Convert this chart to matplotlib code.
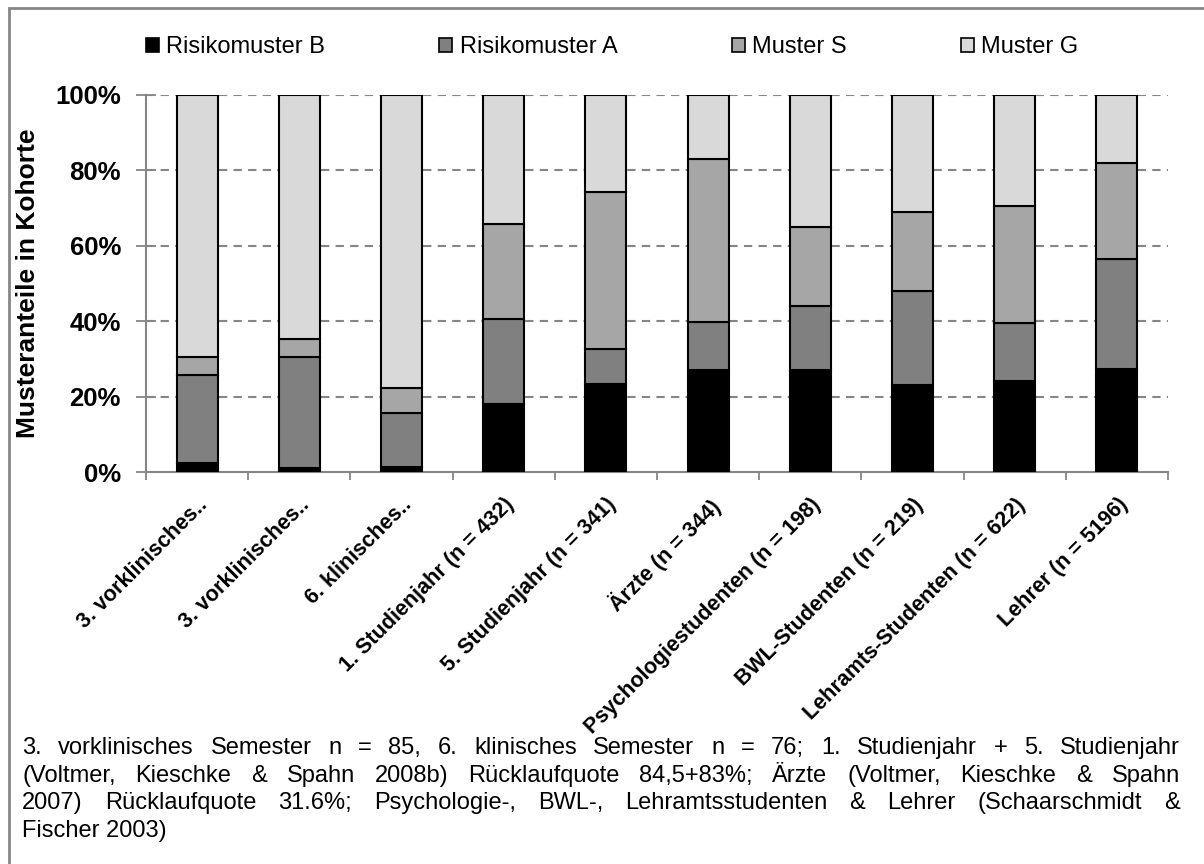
import numpy as np
import matplotlib
matplotlib.use('Agg')
import matplotlib.pyplot as plt
from matplotlib.patches import Rectangle, Patch

plt.rcParams['font.family'] = ['Liberation Sans', 'DejaVu Sans']

# categories (tick labels) and the four pattern shares in %
labels = ['3. vorklinisches..', '3. vorklinisches..', '6. klinisches..',
          '1. Studienjahr (n = 432)', '5. Studienjahr (n = 341)', 'Ärzte (n = 344)',
          'Psychologiestudenten (n = 198)', 'BWL-Studenten (n = 219)',
          'Lehramts-Studenten (n = 622)', 'Lehrer (n = 5196)']
risiko_b = [2.5, 1.1, 1.3, 18.0, 23.4, 27.0, 27.0, 23.0, 24.2, 27.4]
risiko_a = [23.2, 29.3, 14.3, 22.7, 9.3, 12.9, 16.9, 25.0, 15.2, 29.1]
muster_s = [4.9, 4.9, 6.8, 25.1, 41.6, 43.1, 21.1, 21.0, 31.2, 25.4]
muster_g = [69.4, 64.7, 77.6, 34.2, 25.7, 17.0, 35.0, 31.0, 29.4, 18.1]

series_names = ['Risikomuster B', 'Risikomuster A', 'Muster S', 'Muster G']
colors = ['#000000', '#808080', '#a6a6a6', '#d9d9d9']

footnote = ['3. vorklinisches Semester n = 85, 6. klinisches Semester n = 76; 1. Studienjahr + 5. Studienjahr',
            '(Voltmer, Kieschke & Spahn 2008b) Rücklaufquote 84,5+83%; Ärzte (Voltmer, Kieschke & Spahn',
            '2007) Rücklaufquote 31.6%; Psychologie-, BWL-, Lehramtsstudenten & Lehrer (Schaarschmidt &',
            'Fischer 2003)']

W, H = 1204, 864
fig = plt.figure(figsize=(W/100, H/100), dpi=100)
ax = fig.add_axes([146/W, 1-472/H, (1168-146)/W, (472-95)/H])

x = np.arange(len(labels))
bottom = np.zeros(len(labels))
for vals, c in zip([risiko_b, risiko_a, muster_s, muster_g], colors):
    vals = np.array(vals)
    ax.bar(x, vals, 0.4, bottom=bottom, color=c, edgecolor='black', linewidth=1.5, zorder=3)
    bottom += vals

ax.set_xlim(-0.5, len(labels)-0.5)
ax.set_ylim(0, 100)
ax.set_yticks(np.arange(0, 101, 20))
ax.set_yticklabels(['%d%%' % v for v in range(0, 101, 20)], fontsize=18.5, fontweight='bold')
for v in range(20, 101, 20):
    ax.axhline(v, color='#868686', lw=1.5, ls=(0, (4, 3)), zorder=1)

ax.set_xticks(x)
ax.set_xticklabels(labels, rotation=45, ha='right', rotation_mode='anchor',
                   fontsize=15.5, fontweight='bold')
ax.set_xticks(np.arange(-0.5, len(labels)), minor=True)
ax.tick_params(axis='x', which='major', length=0, pad=16)
ax.tick_params(axis='x', which='minor', length=6, color='#868686', width=1.3, direction='out')
ax.tick_params(axis='y', length=14, color='#868686', width=1.3, direction='inout', pad=11)

for s in ['top', 'right']:
    ax.spines[s].set_visible(False)
for s in ['left', 'bottom']:
    ax.spines[s].set_color('#868686')
    ax.spines[s].set_linewidth(1.5)

ax.set_ylabel('Musteranteile in Kohorte', fontsize=19, fontweight='bold')
ax.yaxis.set_label_coords((40-146)/(1168-146), 0.5)

handles = [Patch(facecolor=c, edgecolor='black', linewidth=1.2) for c in colors]
fig.legend(handles, series_names, ncol=4, loc='center left', bbox_to_anchor=(146/W, 1-47/H),
           frameon=False, fontsize=17, handlelength=0.55, handleheight=0.55,
           handletextpad=0.3, columnspacing=4.85, borderaxespad=0, borderpad=0)

# outer frame
fig.patches.append(Rectangle((9/W, -0.1), 1.2, 1-8/H+0.1, transform=fig.transFigure,
                             fill=False, edgecolor='#868686', linewidth=2))

# justified footnote
r = fig.canvas.get_renderer()
x0, x1 = 22/W, 1180/W
for i, line in enumerate(footnote):
    y = 1 - (748 + i*27.7)/H
    kw = dict(fontsize=17, va='center', ha='left')
    if i == len(footnote)-1:
        fig.text(x0, y, line, **kw)
        continue
    words = line.split(' ')
    ts = [fig.text(0, y, w, **kw) for w in words]
    widths = [t.get_window_extent(r).width / W for t in ts]
    gap = (x1 - x0 - sum(widths)) / (len(words)-1)
    xp = x0
    for t, w in zip(ts, widths):
        t.set_x(xp)
        xp += w + gap

fig.savefig('out.png', dpi=100)
